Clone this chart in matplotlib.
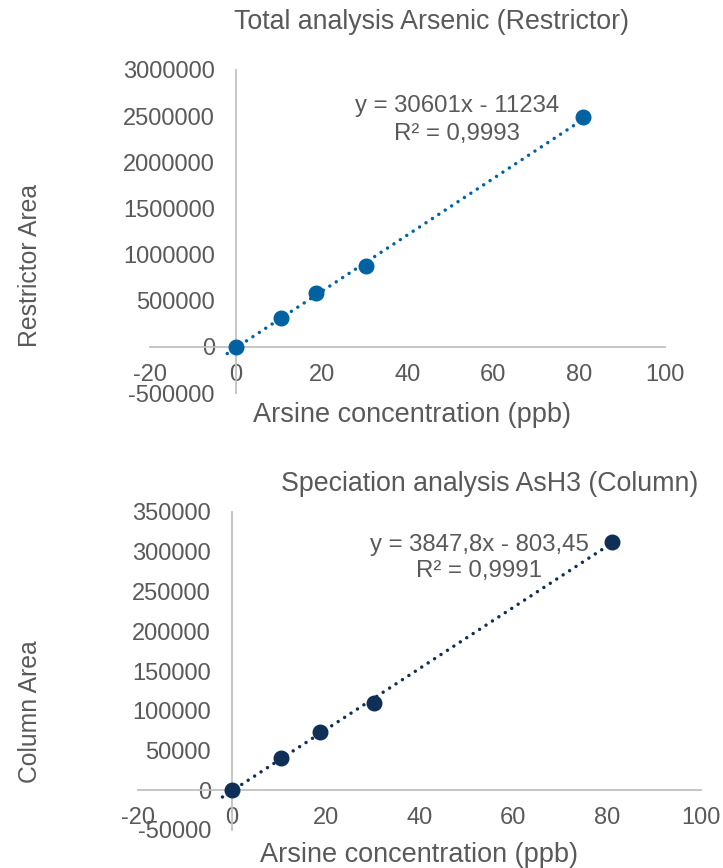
import matplotlib
matplotlib.use('Agg')
import matplotlib.pyplot as plt
import numpy as np

plt.rcParams['font.family'] = ['Liberation Sans', 'DejaVu Sans']
plt.rcParams['axes.unicode_minus'] = False

# measured calibration points
conc = [0, 10.5, 18.7, 30.3, 81.0]
restrictor_area = [0, 315000, 580000, 877000, 2489000]
column_area = [0, 41000, 73300, 109800, 312300]

# trendline coefficients from the chart labels
fit_top = (30601, -11234)
fit_bot = (3847.8, -803.45)
trend_x = [-2, 81.0]

c_top = '#0062A1'
c_bot = '#0F2F56'
txt = '#595959'
axc = '#C0C0C0'

W, H = 723, 868
fig = plt.figure(figsize=(W / 100, H / 100), dpi=100)


def rect(l, t, r, b):
    return [l / W, 1 - b / H, (r - l) / W, (b - t) / H]


def style(ax, xlim, ylim, yticks):
    ax.set_xlim(*xlim)
    ax.set_ylim(*ylim)
    ax.set_xticks(range(-20, 101, 20))
    ax.set_yticks(yticks)
    ax.set_yticklabels([str(v) for v in yticks])
    for s in ['top', 'right']:
        ax.spines[s].set_visible(False)
    for s in ['left', 'bottom']:
        ax.spines[s].set_position(('data', 0))
        ax.spines[s].set_color(axc)
        ax.spines[s].set_linewidth(1.3)
    ax.tick_params(axis='x', length=0, pad=12, labelsize=17, colors=txt)
    ax.tick_params(axis='y', length=0, pad=15, labelsize=17, colors=txt)
    ax.patch.set_alpha(0)


def trend(ax, coef, color):
    xs = np.array(trend_x)
    ax.plot(xs, coef[0] * xs + coef[1], color=color, lw=2.5,
            linestyle=(0, (0.01, 2.2)), dash_capstyle='round', zorder=2)


# top chart
ax1 = fig.add_axes(rect(150, 70, 665, 393))
style(ax1, (-20, 100), (-500000, 3000000), list(range(-500000, 3000001, 500000)))
trend(ax1, fit_top, c_top)
ax1.plot(conc, restrictor_area, 'o', color=c_top, ms=10.5, zorder=3, clip_on=False)
fig.text(431 / W, 1 - 22 / H, 'Total analysis Arsenic (Restrictor)', ha='center', va='center',
         fontsize=19.3, color=txt)
fig.text(412 / W, 1 - 415 / H, 'Arsine concentration (ppb)', ha='center', va='center',
         fontsize=19.5, color=txt)
fig.text(30 / W, 1 - 265 / H, 'Restrictor Area', ha='center', va='center', rotation=90,
         fontsize=17.8, color=txt)
fig.text(457 / W, 1 - 120 / H, 'y = 30601x - 11234\nR² = 0,9993', ha='center', va='center',
         fontsize=17.3, color=txt, linespacing=1.35)

# bottom chart
ax2 = fig.add_axes(rect(138, 512, 701, 830))
style(ax2, (-20, 100), (-50000, 350000), list(range(-50000, 350001, 50000)))
trend(ax2, fit_bot, c_bot)
ax2.plot(conc, column_area, 'o', color=c_bot, ms=10.5, zorder=3, clip_on=False)
fig.text(490 / W, 1 - 484 / H, 'Speciation analysis AsH3 (Column)', ha='center', va='center',
         fontsize=19.3, color=txt)
fig.text(419 / W, 1 - 855 / H, 'Arsine concentration (ppb)', ha='center', va='center',
         fontsize=19.5, color=txt)
fig.text(30 / W, 1 - 712 / H, 'Column Area', ha='center', va='center', rotation=90,
         fontsize=17.8, color=txt)
fig.text(479 / W, 1 - 558 / H, 'y = 3847,8x - 803,45\nR² = 0,9991', ha='center', va='center',
         fontsize=17.3, color=txt, linespacing=1.25)

fig.savefig('out.png', dpi=100)
